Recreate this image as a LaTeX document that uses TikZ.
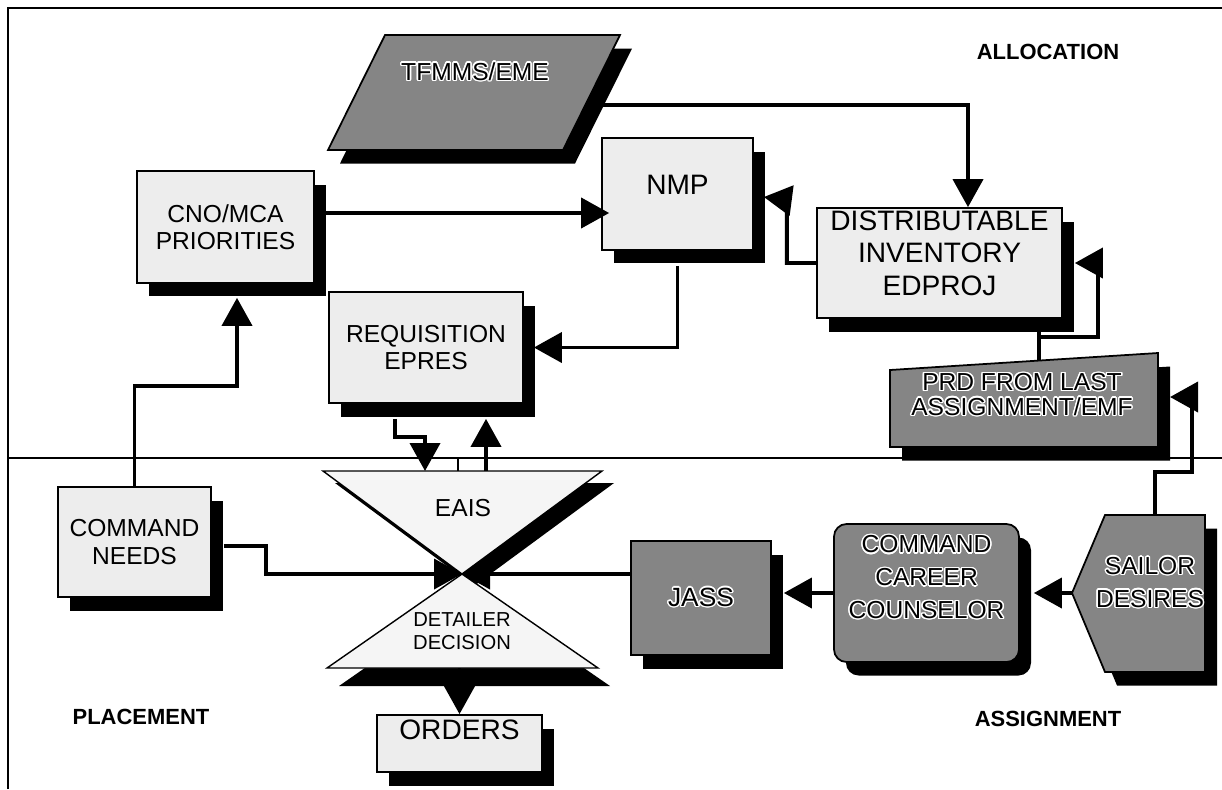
\documentclass[tikz,border=0pt]{standalone}
\usepackage{fontspec}
\setmainfont{Liberation Sans}
\usepackage{contour}
\contourlength{0.8pt}
\usepackage{tikz}
\usetikzlibrary{arrows.meta,shadows}

\newcommand{\wt}[1]{\contour{white}{#1}}

\begin{document}
\begin{tikzpicture}[
x=0.02cm,
y=-0.02cm,
every node/.style={font=\fontsize{14}{15.5}\selectfont},
dshadow/.style={drop shadow={shadow xshift=0.24cm,shadow yshift=-0.27cm,fill=black,opacity=1}},
lite/.style={rectangle,draw,line width=1pt,fill=black!7,align=center,inner sep=1pt,dshadow},
dark/.style={rectangle,draw,line width=1pt,fill=black!48,align=center,inner sep=1pt,dshadow},
darkshape/.style={draw,line width=1pt,fill=black!48,dshadow},
tri/.style={draw,line width=0.8pt,fill=black!4},
lbl/.style={align=center,inner sep=0pt},
big/.style={font=\fontsize{16}{18.4}\selectfont},
small/.style={font=\fontsize{11.5}{12.8}\selectfont},
region/.style={font=\fontsize{12.5}{14}\selectfont\bfseries},
arr/.style={-{Triangle[length=0.56cm,width=0.6cm]},line width=2.2pt},
link/.style={line width=2.2pt},
rule/.style={line width=0.9pt}
]
\useasboundingbox (0,0) rectangle (1222,789);
\draw[rule] (8,789) -- (8,8) -- (1222,8);
\draw[rule] (8,458) -- (1222,458);

\node[region] (alloc) at (1048,52) {ALLOCATION};
\node[region] (place) at (141,717) {PLACEMENT};
\node[region] (assign) at (1048,719) {ASSIGNMENT};

\path[darkshape] (385,35) -- (620,35) -- (563,150) -- (328,150) -- cycle;
\node[lbl] (tfmms) at (475,72) {\wt{TFMMS/EME}};
\coordinate (tfmmsr) at (600,105);

\node[lite,minimum width=3.54cm,minimum height=2.24cm] (cno) at (225.5,227) {CNO/MCA\\PRIORITIES};
\node[lite,big,minimum width=3.02cm,minimum height=2.24cm,text depth=0.36cm] (nmp) at (677.5,194) {NMP};
\node[lite,big,minimum width=4.9cm,minimum height=2.2cm,text depth=0.4cm] (dist) at (939.5,263) {DISTRIBUTABLE\\INVENTORY\\EDPROJ};
\node[lite,minimum width=3.88cm,minimum height=2.22cm] (req) at (426,347.5) {REQUISITION\\EPRES};
\node[lite,minimum width=3.06cm,minimum height=2.2cm] (cmdneeds) at (134.5,542) {COMMAND\\NEEDS};

\path[darkshape] (890,370) -- (1158,353) -- (1158,447) -- (890,447) -- cycle;
\node[lbl,font=\fontsize{14}{14}\selectfont] (prd) at (1022,395) {\wt{PRD FROM LAST}\\\wt{ASSIGNMENT/EMF}};
\coordinate (prdtop) at (1039,360);
\coordinate (prdr) at (1170,397);

\node[dark,font=\fontsize{15}{17}\selectfont,minimum width=2.8cm,minimum height=2.28cm] (jass) at (701,598) {\wt{JASS}};
\node[dark,rounded corners=0.25cm,font=\fontsize{14}{18.7}\selectfont,minimum width=3.7cm,minimum height=2.76cm,text depth=0.64cm] (ccc) at (926.5,593) {\wt{COMMAND}\\\wt{CAREER}\\\wt{COUNSELOR}};

\path[darkshape] (1105,515) -- (1205,515) -- (1205,672) -- (1105,672) -- (1072,593) -- cycle;
\node[lbl,font=\fontsize{14}{18.7}\selectfont] (sailor) at (1150,583) {\wt{SAILOR}\\\wt{DESIRES}};
\coordinate (sailortop) at (1155,515);
\coordinate (sailorw) at (1072,593);

\path[tri,drop shadow={shadow xshift=0.24cm,shadow yshift=-0.24cm,fill=black,opacity=1}] (323,471) -- (602,471) -- (462,574) -- cycle;
\path[tri,drop shadow={shadow xshift=0.24cm,shadow yshift=-0.36cm,fill=black,opacity=1}] (462,574) -- (598,668) -- (327,668) -- cycle;
\node[lbl] (eais) at (463,508) {EAIS};
\node[lbl,small] (detailer) at (462,631) {DETAILER\\DECISION};
\coordinate (xmid) at (462,574);
\coordinate (eaisin) at (425,471);
\coordinate (eaisout) at (486,471);
\coordinate (xbottom) at (459.5,668);

\node[lite,big,minimum width=3.3cm,minimum height=1.14cm,text depth=0.54cm] (orders) at (459.5,743.5) {ORDERS};

\draw[arr] (cmdneeds.north) |- ([shift={(11.5,102)}]cno.south) -- ([shift={(11.5,14)}]cno.south);
\draw[arr] ([shift={(0,-14)}]cno.east) -- ([shift={(8,19)}]nmp.west);
\draw[arr] ([shift={(0,15)}]nmp.south) |- ([shift={(10,0)}]req.east);
\draw[arr] (tfmmsr) -| ([shift={(28.5,0)}]dist.north);
\draw[arr] (dist.west) -| ([shift={(33,6)}]nmp.east) -- ([shift={(10,3)}]nmp.east);
\draw[link] (prdtop) -- ([shift={(99.5,12)}]dist.south);
\draw[arr] (prdtop |- 0,337) -| (1098,263) -- ([shift={(12,0)}]dist.east);
\draw[arr] (sailortop) |- (1192,472) |- (prdr);
\draw[arr] (sailorw) -- ([shift={(14,0)}]ccc.east);
\draw[arr] (ccc.west) -- ([shift={(12,-5)}]jass.east);
\draw[arr] ([shift={(0,-24)}]jass.west) -- (xmid);
\draw[arr] ([shift={(12,4)}]cmdneeds.east) -| (266,574) -- (xmid);
\draw[arr] ([shift={(-31,15)}]req.south) |- (425,437) -- (eaisin);
\draw[arr] (eaisout) -- ([shift={(60,15)}]req.south);
\draw[arr] (xbottom) -- (orders.north);
\draw[rule] (458,458) -- (458,471);
\end{tikzpicture}
\end{document}
